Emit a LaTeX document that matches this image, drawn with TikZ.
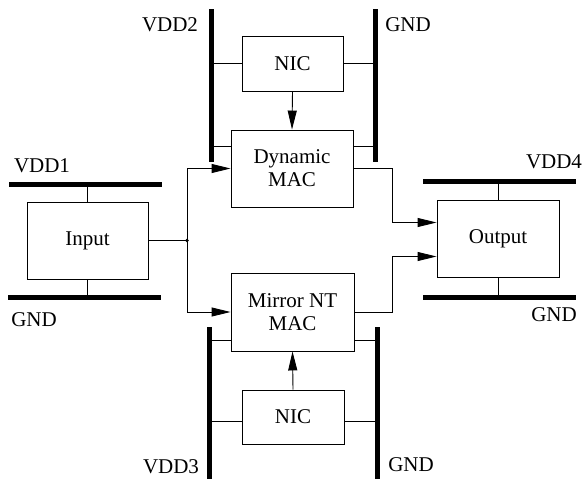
\documentclass[tikz,border=0pt]{standalone}
\usepackage{fontspec}
\setmainfont{Liberation Serif}
\usetikzlibrary{arrows.meta}
\begin{document}
\begin{tikzpicture}[x=1pt,y=-1pt,
  blk/.style={draw,line width=0.9pt,rectangle,align=center,inner sep=0pt,font=\fontsize{21}{23}\selectfont},
  lbl/.style={font=\fontsize{21}{23}\selectfont,inner sep=0pt},
  bar/.style={line width=5pt},
  wire/.style={line width=0.9pt},
  arr/.style={wire,-{Triangle[length=19pt,width=9pt]}}]
\useasboundingbox (0,0) rectangle (583,479);
% blocks
\node[blk,minimum width=101pt,minimum height=55pt] (nic1) at (292.5,63.5) {NIC};
\node[blk,minimum width=122pt,minimum height=77pt] (dyn) at (292,168.5) {Dynamic\\MAC};
\node[blk,minimum width=123pt,minimum height=78pt] (mir) at (292.5,312) {Mirror NT\\MAC};
\node[blk,minimum width=102pt,minimum height=54pt] (nic2) at (293,417) {NIC};
\node[blk,minimum width=121pt,minimum height=77pt] (inp) at (87.5,240.5) {Input};
\node[blk,minimum width=122pt,minimum height=77pt] (outp) at (498,238.5) {Output};
% supply bars
\coordinate (v2a) at (211,9);   \coordinate (v2b) at (211,162);
\coordinate (g2a) at (375,9);   \coordinate (g2b) at (375,162);
\coordinate (v1a) at (9,184);   \coordinate (v1b) at (162,184);
\coordinate (g1a) at (8,297);   \coordinate (g1b) at (161,297);
\coordinate (v3a) at (209,327); \coordinate (v3b) at (209,479);
\coordinate (g3a) at (377,327); \coordinate (g3b) at (377,479);
\coordinate (v4a) at (423,181); \coordinate (v4b) at (576,181);
\coordinate (g4a) at (423,297); \coordinate (g4b) at (576,297);
\foreach \a/\b in {v2a/v2b,g2a/g2b,v1a/v1b,g1a/g1b,v3a/v3b,g3a/g3b,v4a/v4b,g4a/g4b}
  \draw[bar] (\a) -- (\b);
% labels
\node[lbl] (lv2) at (170,25) {VDD2};
\node[lbl] (lg2) at (408,25) {GND};
\node[lbl] (lv1) at (42,166) {VDD1};
\node[lbl] (lg1) at (34,320) {GND};
\node[lbl] (lv4) at (554,162) {VDD4};
\node[lbl] (lg4) at (554,315) {GND};
\node[lbl] (lv3) at (171,467) {VDD3};
\node[lbl] (lg3) at (411,465) {GND};
% supply connections
\draw[wire] (nic1.west) -- (nic1.west -| v2a);
\draw[wire] (nic1.east) -- (nic1.east -| g2a);
\draw[wire] ([yshift=22.5pt]dyn.west) -- ([yshift=22.5pt]dyn.west -| v2a);
\draw[wire] ([yshift=22.5pt]dyn.east) -- ([yshift=22.5pt]dyn.east -| g2a);
\draw[wire] (inp.north) -- (inp.north |- v1a);
\draw[wire] (inp.south) -- (inp.south |- g1a);
\draw[wire] (outp.north) -- (outp.north |- v4a);
\draw[wire] (outp.south) -- (outp.south |- g4a);
\draw[wire] ([yshift=-28pt]mir.west) -- ([yshift=-28pt]mir.west -| v3a);
\draw[wire] ([yshift=-28pt]mir.east) -- ([yshift=-28pt]mir.east -| g3a);
\draw[wire] ([yshift=-4pt]nic2.west) -- ([yshift=-4pt]nic2.west -| v3a);
\draw[wire] ([yshift=-4pt]nic2.east) -- ([yshift=-4pt]nic2.east -| g3a);
% signal connections
\coordinate (jn) at (187,240.5);
\draw[wire] (inp.east) -- (jn);
\fill (jn) circle (1.8pt);
\draw[arr] (jn) |- (dyn.west);
\draw[arr] (jn) |- (mir.west);
\draw[arr] (nic1.south) -- (dyn.north);
\draw[arr] (nic2.north) -- (mir.south);
\coordinate (tu) at (392,0);
\draw[arr] (dyn.east) -- (dyn.east -| tu) |- ([yshift=16pt]outp.west);
\draw[arr] (mir.east) -- (mir.east -| tu) |- ([yshift=-18pt]outp.west);
\end{tikzpicture}
\end{document}
